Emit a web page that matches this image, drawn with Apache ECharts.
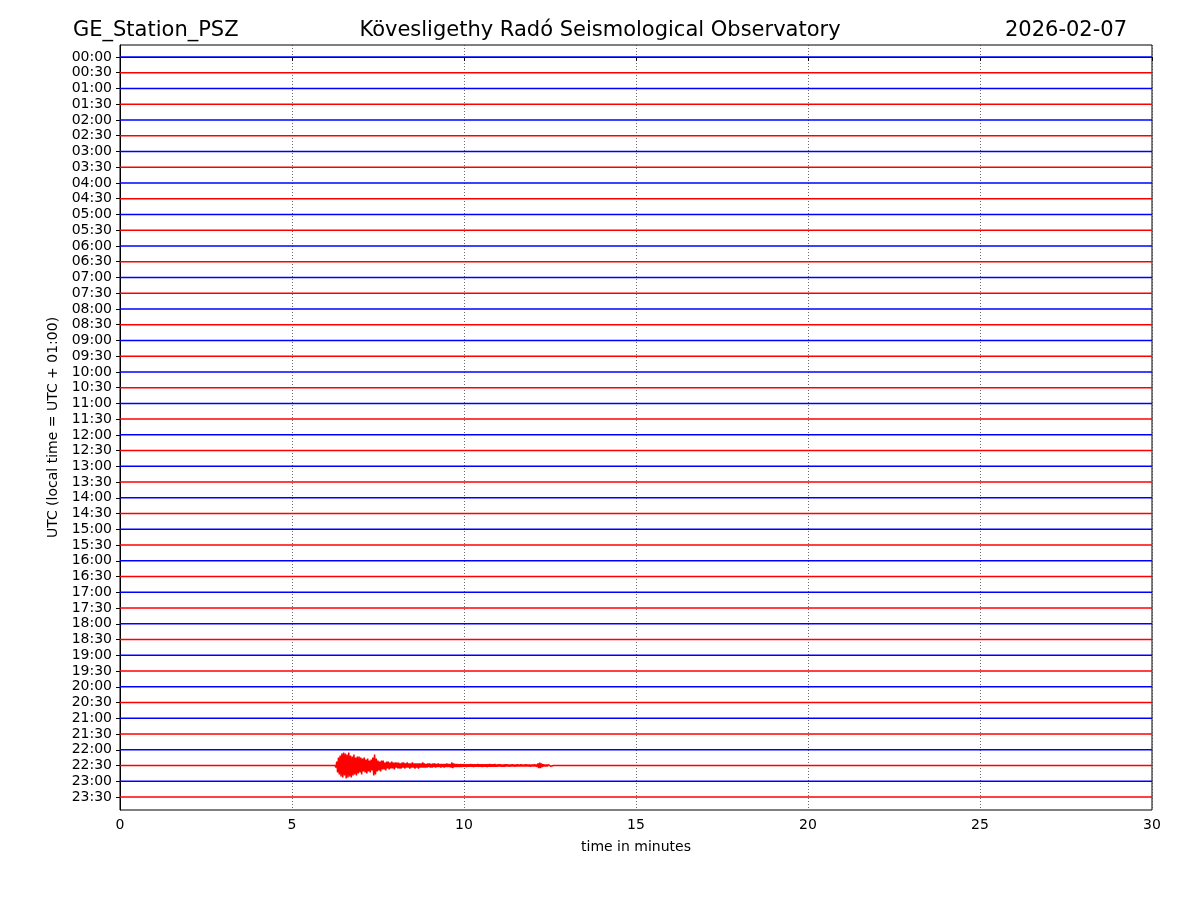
<!DOCTYPE html>
<html>
<head>
<meta charset="utf-8">
<script src="https://cdn.jsdelivr.net/npm/echarts@6/dist/echarts.min.js"></script>
<style>html,body{margin:0;padding:0;background:#fff;}#c{width:1200px;height:900px;}</style>
</head>
<body>
<div id="c"></div>
<script>
// ---- data ----
const rowLabels = ["00:00","00:30","01:00","01:30","02:00","02:30","03:00","03:30","04:00","04:30","05:00","05:30",
"06:00","06:30","07:00","07:30","08:00","08:30","09:00","09:30","10:00","10:30","11:00","11:30",
"12:00","12:30","13:00","13:30","14:00","14:30","15:00","15:30","16:00","16:30","17:00","17:30",
"18:00","18:30","19:00","19:30","20:00","20:30","21:00","21:30","22:00","22:30","23:00","23:30"];
const xTicks = [0,5,10,15,20,25,30];
const eventRow = 45; // 22:30 trace
// event samples: start time (minutes), sample interval (minutes), amplitudes
const evtStart = 6.25;
const evtStep = 0.025;
const evtAmp = [
0,2,-4,
7,-8,9,-10,11,-12,12,-13,10,-12,13,-11,
12,-13,11,-10,12,-9,10,-11,9,-8,10,-9,
8,-9,7,-8,9,-7,6,-8,7,-6,8,-7,
6,-5,7,-6,5,-8,10,-11,9,-7,6,-5,
5,-4,6,-5,4,-5,4,-3,5,-4,3,-4,
4,-3,3,-4,3,-3,4,-3,2,-3,3,-3,
3,-2,3,-3,2,-3,3,-2,2,-3,2,-2,
3,-2,2,-3,2,-2,3,-2,2,-2,3,-2,
2,-2,2,-3,2,-2,2,-1.5,2,-2,1.5,-2,
2,-1.5,2,-2,1.5,-2,2,-1.5,1.5,-2,1.5,-1.5,
2,-1.5,1.5,-1.5,2,-1.5,1.5,-2,1.5,-1.5,1.5,-1.5,
2,-3,2.5,-2,1.5,-1.5,1.5,-1.5,1.5,-1.2,1.5,-1.5,
1.5,-1.2,1.2,-1.5,1.2,-1.2,1.5,-1.2,1.2,-1.2,1.2,-1.5,
1.2,-1.2,1.5,-1.2,1.2,-1.2,1.2,-1.5,1.2,-1.2,1.2,-1.2,
1.5,-1.2,1.2,-1.2,1.2,-1.2,1.5,-1.2,1.2,-1.5,1.2,-1.2,
1.2,-1.2,1.2,-1.5,1.2,-1,1.2,-1.2,1,-1.2,1.2,-1,
1.2,-1,1.2,-1.2,1,-1.2,1,-1,1.2,-1,1,-1.2,
1,-1,1.2,-1,1,-1.2,1,-1,1,-1.2,1,-1,
1,-1,1,-1.2,1,-1,1,-1,1.2,-1,1,-1,
1,-1.2,1,-1,1.5,-2,2.5,-3,2.5,-2,1.5,-1.2,
1,-1,1,-1,1,-1,0.8,-0.8,0.8,-0.8,0.5,0];
const ampPerRow = 15.7; // amplitude counts per trace spacing

// ---- chart ----
const chart = echarts.init(document.getElementById('c'), null, {renderer:'canvas'});
const font = 'DejaVu Sans';
const series = rowLabels.map((lab, i) => {
  let data;
  if (i === eventRow) {
    data = [[0, i]];
    evtAmp.forEach((a, k) => data.push([evtStart + k * evtStep, i + a / ampPerRow]));
    data.push([30, i]);
  } else {
    data = [[0, i], [30, i]];
  }
  return {
    type: 'line', data, showSymbol: false, symbol: 'none', silent: true,
    lineStyle: {width: 1.5, color: i % 2 === 0 ? '#0000ff' : '#ff0000'},
    animation: false, z: 3
  };
});

chart.setOption({
  animation: false,
  backgroundColor: '#fff',
  title: [
    {text: 'GE_Station_PSZ', left: 68, top: 15, textStyle: {fontFamily: font, fontSize: 21, fontWeight: 'normal', color: '#000'}},
    {text: 'Kövesligethy Radó Seismological Observatory', left: 'center', top: 15, textStyle: {fontFamily: font, fontSize: 21, fontWeight: 'normal', color: '#000'}},
    {text: '2026-02-07', right: 68, top: 15, textStyle: {fontFamily: font, fontSize: 21, fontWeight: 'normal', color: '#000'}}
  ],
  grid: {left: 120, right: 48, top: 45, bottom: 90, show: true, borderColor: '#000', borderWidth: 1, backgroundColor: 'transparent'},
  xAxis: {
    type: 'value', min: 0, max: 30, interval: 5,
    name: 'time in minutes', nameLocation: 'middle', nameGap: 30,
    nameTextStyle: {fontFamily: font, fontSize: 14, color: '#000'},
    axisLine: {show: true, lineStyle: {color: '#000', width: 1}},
    axisTick: {show: true, length: 4, lineStyle: {color: '#000'}},
    axisLabel: {fontFamily: font, fontSize: 14, color: '#000', margin: 8,
      formatter: v => xTicks.includes(v) ? String(v) : ''},
    splitLine: {show: true, lineStyle: {color: '#444', width: 0.8, type: [1, 2]}}
  },
  yAxis: {
    type: 'value', inverse: true, min: -0.762, max: 47.826,
    name: 'UTC (local time = UTC + 01:00)', nameLocation: 'middle', nameGap: 55,
    nameTextStyle: {fontFamily: font, fontSize: 14, color: '#000'},
    axisLine: {show: true, lineStyle: {color: '#000', width: 1}},
    axisTick: {show: true, length: 4, lineStyle: {color: '#000'}, customValues: rowLabels.map((_, i) => i)},
    axisLabel: {fontFamily: font, fontSize: 14, color: '#000', margin: 8,
      customValues: rowLabels.map((_, i) => i),
      formatter: v => rowLabels[Math.round(v)] || ''},
    splitLine: {show: false}
  },
  series
});
</script>
</body>
</html>
